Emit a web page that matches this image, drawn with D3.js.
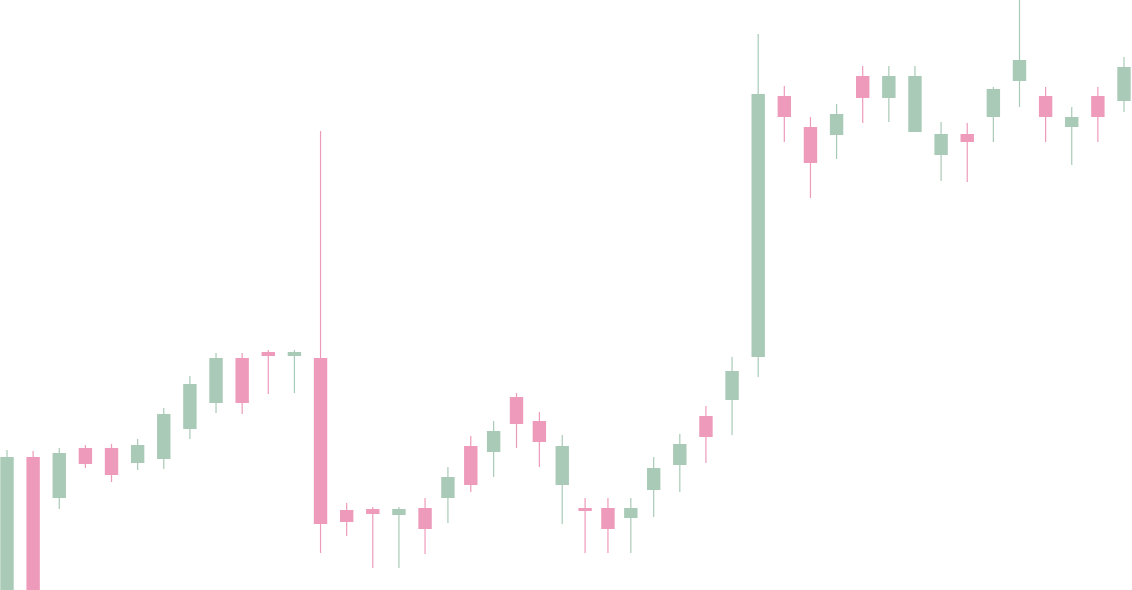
<!DOCTYPE html>
<html>
<head>
<meta charset="utf-8">
<script src="https://cdn.jsdelivr.net/npm/d3@7"></script>
<style>
  html, body { margin: 0; padding: 0; background: #ffffff; overflow: hidden; }
  svg { display: block; }
</style>
</head>
<body>
<svg id="chart" width="1132" height="590"></svg>
<script>
// Time index of each candle
const days = [0, 8, 16, 24, 32, 40, 48, 56, 64, 72, 80, 88, 96, 104, 112, 120, 128,
  135, 142, 149, 156, 163, 170, 177, 184, 191, 198,
  206, 214, 222, 230, 238, 246, 254, 262, 270, 278, 286, 294, 302, 310, 318, 326, 334, 342];
const opens  = [-5, 143, 102, 152, 152, 137, 141, 171, 197, 242, 248, 244, 242, 90, 91, 85, 92,
  102, 154, 148, 203, 179, 115, 92, 92, 82, 110,
  135, 184, 200, 243, 504, 473, 465, 524, 502, 468, 445, 466, 483, 519, 504, 473, 504, 499];
const highs  = [150, 149, 152, 155, 156, 161, 192, 224, 247, 247, 250, 250, 469, 97, 93, 93, 102,
  133, 164, 179, 207, 188, 165, 102, 102, 102, 143,
  166, 194, 243, 566, 514, 483, 496, 534, 534, 534, 478, 477, 513, 605, 513, 493, 513, 543];
const lows   = [-15, -15, 91, 132, 118, 130, 131, 161, 187, 186, 206, 207, 47, 64, 32, 32, 46,
  77, 108, 123, 152, 133, 76, 47, 47, 47, 83,
  108, 137, 165, 223, 458, 402, 441, 477, 478, 468, 419, 418, 458, 493, 458, 435, 458, 488];
const closes = [143, -5, 147, 136, 125, 155, 186, 216, 242, 197, 244, 248, 76, 78, 86, 91, 71,
  123, 115, 169, 176, 158, 154, 89, 71, 92, 132,
  156, 163, 229, 506, 483, 437, 486, 502, 524, 524, 466, 458, 511, 540, 483, 483, 483, 533];

const upColor = "#a9cab6";
const downColor = "#ed9abb";

const data = days.map((d, i) => ({
  t: d, open: opens[i], high: highs[i], low: lows[i], close: closes[i]
}));

const width = 1132, height = 590;
const bodyWidth = 13.4;

const x = d3.scaleLinear()
  .domain(d3.extent(days))
  .range([7, 1124]);

const y = d3.scaleLinear()
  .domain([0, 600])
  .range([600, 0]);

const svg = d3.select("#chart");

const g = svg.append("g");

const candle = g.selectAll("g.candle")
  .data(data)
  .join("g")
  .attr("class", "candle");

candle.append("line")
  .attr("x1", d => x(d.t))
  .attr("x2", d => x(d.t))
  .attr("y1", d => y(d.high))
  .attr("y2", d => y(d.low))
  .attr("stroke", d => d.close >= d.open ? upColor : downColor)
  .attr("stroke-width", 1.2);

candle.append("rect")
  .attr("x", d => x(d.t) - bodyWidth / 2)
  .attr("width", bodyWidth)
  .attr("y", d => y(Math.max(d.open, d.close)))
  .attr("height", d => Math.max(1, Math.abs(y(d.open) - y(d.close))))
  .attr("fill", d => d.close >= d.open ? upColor : downColor);
</script>
</body>
</html>
